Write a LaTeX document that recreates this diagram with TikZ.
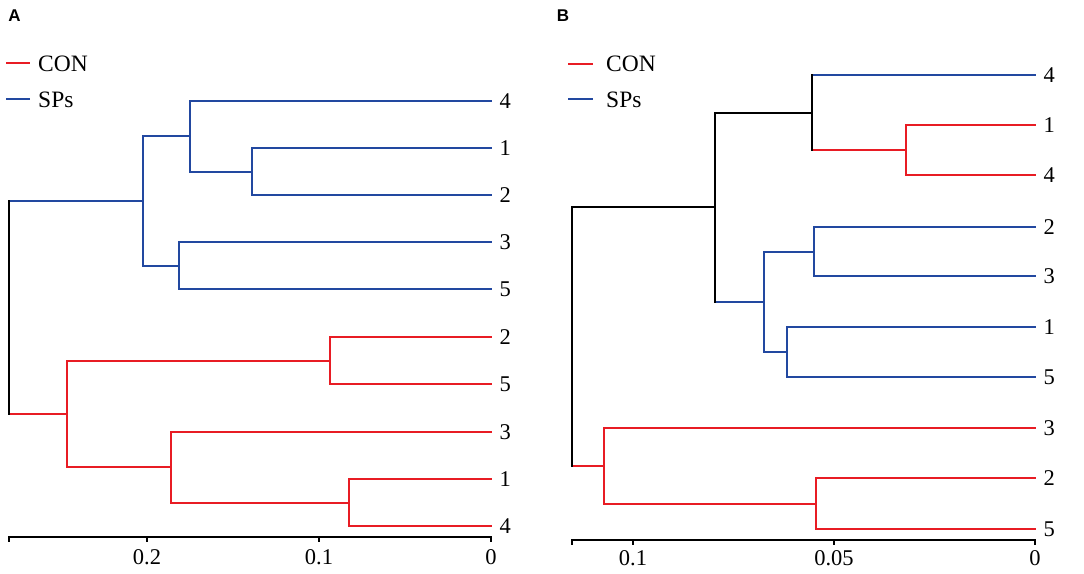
\documentclass[tikz,border=0pt]{standalone}
\usepackage{fontspec}
\setmainfont{Liberation Serif}
\newfontfamily\panelfont{Liberation Sans}
\definecolor{conred}{RGB}{232,28,36}
\definecolor{spblue}{RGB}{34,72,160}
\newcommand\dbar[4]{\draw[#1] (#2 |- #3) -- (#2 |- #4);}
\newcommand\dedge[3]{\draw[#1] (#2 |- #3) -- (#3);}
\begin{document}
\begin{tikzpicture}[x=1bp,y=-1bp,
  br/.style={line width=2bp,line cap=rect},
  rd/.style={br,conred},
  bl/.style={br,spblue},
  bk/.style={br,black},
  lab/.style={anchor=west,inner sep=0pt,xshift=8.5bp,font=\fontsize{22.5bp}{27bp}\selectfont},
  ticklab/.style={anchor=base,inner sep=0pt,font=\fontsize{22.5bp}{27bp}\selectfont},
  legtext/.style={anchor=base west,inner sep=0pt,font=\fontsize{23.5bp}{28bp}\selectfont},
  panel/.style={inner sep=0pt,font=\panelfont\bfseries\fontsize{17bp}{20bp}\selectfont},
  axis/.style={line width=2bp,black}]
\useasboundingbox (0,0) rectangle (1084,574);

% ---------------- Panel A ----------------
\node[panel] (pA) at (14.5,16) {A};
\coordinate (lgAr1) at (6,63);  \coordinate (lgAr2) at (30,63);
\coordinate (lgAb1) at (6,99);  \coordinate (lgAb2) at (30,99);
\draw[rd,line cap=butt] (lgAr1) -- (lgAr2);
\draw[bl,line cap=butt] (lgAb1) -- (lgAb2);
\node[legtext] (lgAcon) at (38,72) {CON};
\node[legtext] (lgAsp) at (38,107.5) {SPs};

% leaves
\coordinate (a1) at (491,101);
\coordinate (a2) at (491,148);
\coordinate (a3) at (491,195);
\coordinate (a4) at (491,242);
\coordinate (a5) at (491,289);
\coordinate (a6) at (491,337);
\coordinate (a7) at (491,384);
\coordinate (a8) at (491,432);
\coordinate (a9) at (491,479);
\coordinate (a10) at (491,526);
\node[lab] (la1) at (a1) {4};
\node[lab] (la2) at (a2) {1};
\node[lab] (la3) at (a3) {2};
\node[lab] (la4) at (a4) {3};
\node[lab] (la5) at (a5) {5};
\node[lab] (la6) at (a6) {2};
\node[lab] (la7) at (a7) {5};
\node[lab] (la8) at (a8) {3};
\node[lab] (la9) at (a9) {1};
\node[lab] (la10) at (a10) {4};

% internal nodes
\coordinate (A12) at (252,172);
\coordinate (A412) at (190,136);
\coordinate (A35) at (179,266);
\coordinate (ASP) at (143,201);
\coordinate (A25) at (330,361);
\coordinate (A14) at (349,503);
\coordinate (A314) at (171,467);
\coordinate (ACON) at (67,414);
\coordinate (Aroot) at (9,307);

\dbar{bl}{A12}{a2}{a3} \dedge{bl}{A12}{a2} \dedge{bl}{A12}{a3}
\dbar{bl}{A412}{a1}{A12} \dedge{bl}{A412}{a1} \dedge{bl}{A412}{A12}
\dbar{bl}{A35}{a4}{a5} \dedge{bl}{A35}{a4} \dedge{bl}{A35}{a5}
\dbar{bl}{ASP}{A412}{A35} \dedge{bl}{ASP}{A412} \dedge{bl}{ASP}{A35}
\dbar{rd}{A25}{a6}{a7} \dedge{rd}{A25}{a6} \dedge{rd}{A25}{a7}
\dbar{rd}{A14}{a9}{a10} \dedge{rd}{A14}{a9} \dedge{rd}{A14}{a10}
\dbar{rd}{A314}{a8}{A14} \dedge{rd}{A314}{a8} \dedge{rd}{A314}{A14}
\dbar{rd}{ACON}{A25}{A314} \dedge{rd}{ACON}{A25} \dedge{rd}{ACON}{A314}
\dedge{bl}{Aroot}{ASP} \dedge{rd}{Aroot}{ACON}
\dbar{bk}{Aroot}{ASP}{ACON}

% axis A
\coordinate (axA0) at (9,537);
\coordinate (axA1) at (491,537);
\draw[axis] (axA0) -- (axA1);
\foreach \xx/\tt in {9/,147/0.2,319/0.1,491/0}{
  \draw[axis] (\xx,536) -- (\xx,542);
  \node[ticklab] at (\xx,564) {\tt};
}

% ---------------- Panel B ----------------
\node[panel] (pB) at (563,15.5) {B};
\coordinate (lgBr1) at (568,64);  \coordinate (lgBr2) at (593,64);
\coordinate (lgBb1) at (568,99);  \coordinate (lgBb2) at (593,99);
\draw[rd,line cap=butt] (lgBr1) -- (lgBr2);
\draw[bl,line cap=butt] (lgBb1) -- (lgBb2);
\node[legtext] (lgBcon) at (606,72) {CON};
\node[legtext] (lgBsp) at (606,107.5) {SPs};

\coordinate (b1) at (1035,75);
\coordinate (b2) at (1035,125);
\coordinate (b3) at (1035,175);
\coordinate (b4) at (1035,227);
\coordinate (b5) at (1035,276);
\coordinate (b6) at (1035,327);
\coordinate (b7) at (1035,377);
\coordinate (b8) at (1035,428);
\coordinate (b9) at (1035,478);
\coordinate (b10) at (1035,529);
\node[lab] (lb1) at (b1) {4};
\node[lab] (lb2) at (b2) {1};
\node[lab] (lb3) at (b3) {4};
\node[lab] (lb4) at (b4) {2};
\node[lab] (lb5) at (b5) {3};
\node[lab] (lb6) at (b6) {1};
\node[lab] (lb7) at (b7) {5};
\node[lab] (lb8) at (b8) {3};
\node[lab] (lb9) at (b9) {2};
\node[lab] (lb10) at (b10) {5};

\coordinate (BC14) at (906,150);
\coordinate (BX) at (812,113);
\coordinate (B23) at (814,252);
\coordinate (B15) at (787,352);
\coordinate (BS) at (764,302);
\coordinate (BU) at (715,207);
\coordinate (B25) at (816,504);
\coordinate (BC) at (604,466);
\coordinate (Broot) at (572,336);

\dbar{rd}{BC14}{b2}{b3} \dedge{rd}{BC14}{b2} \dedge{rd}{BC14}{b3}
\dedge{bl}{BX}{b1} \dedge{rd}{BX}{BC14} \dbar{bk}{BX}{b1}{BC14}
\dbar{bl}{B23}{b4}{b5} \dedge{bl}{B23}{b4} \dedge{bl}{B23}{b5}
\dbar{bl}{B15}{b6}{b7} \dedge{bl}{B15}{b6} \dedge{bl}{B15}{b7}
\dbar{bl}{BS}{B23}{B15} \dedge{bl}{BS}{B23} \dedge{bl}{BS}{B15}
\dedge{bk}{BU}{BX} \dedge{bl}{BU}{BS} \dbar{bk}{BU}{BX}{BS}
\dbar{rd}{B25}{b9}{b10} \dedge{rd}{B25}{b9} \dedge{rd}{B25}{b10}
\dbar{rd}{BC}{b8}{B25} \dedge{rd}{BC}{b8} \dedge{rd}{BC}{B25}
\dedge{bk}{Broot}{BU} \dedge{rd}{Broot}{BC}
\dbar{bk}{Broot}{BU}{BC}

\coordinate (axB0) at (572,540);
\coordinate (axB1) at (1035,540);
\draw[axis] (axB0) -- (axB1);
\foreach \xx/\tt in {572/,633/0.1,834/0.05,1035/0}{
  \draw[axis] (\xx,539) -- (\xx,545);
  \node[ticklab] at (\xx,565) {\tt};
}
\end{tikzpicture}
\end{document}
